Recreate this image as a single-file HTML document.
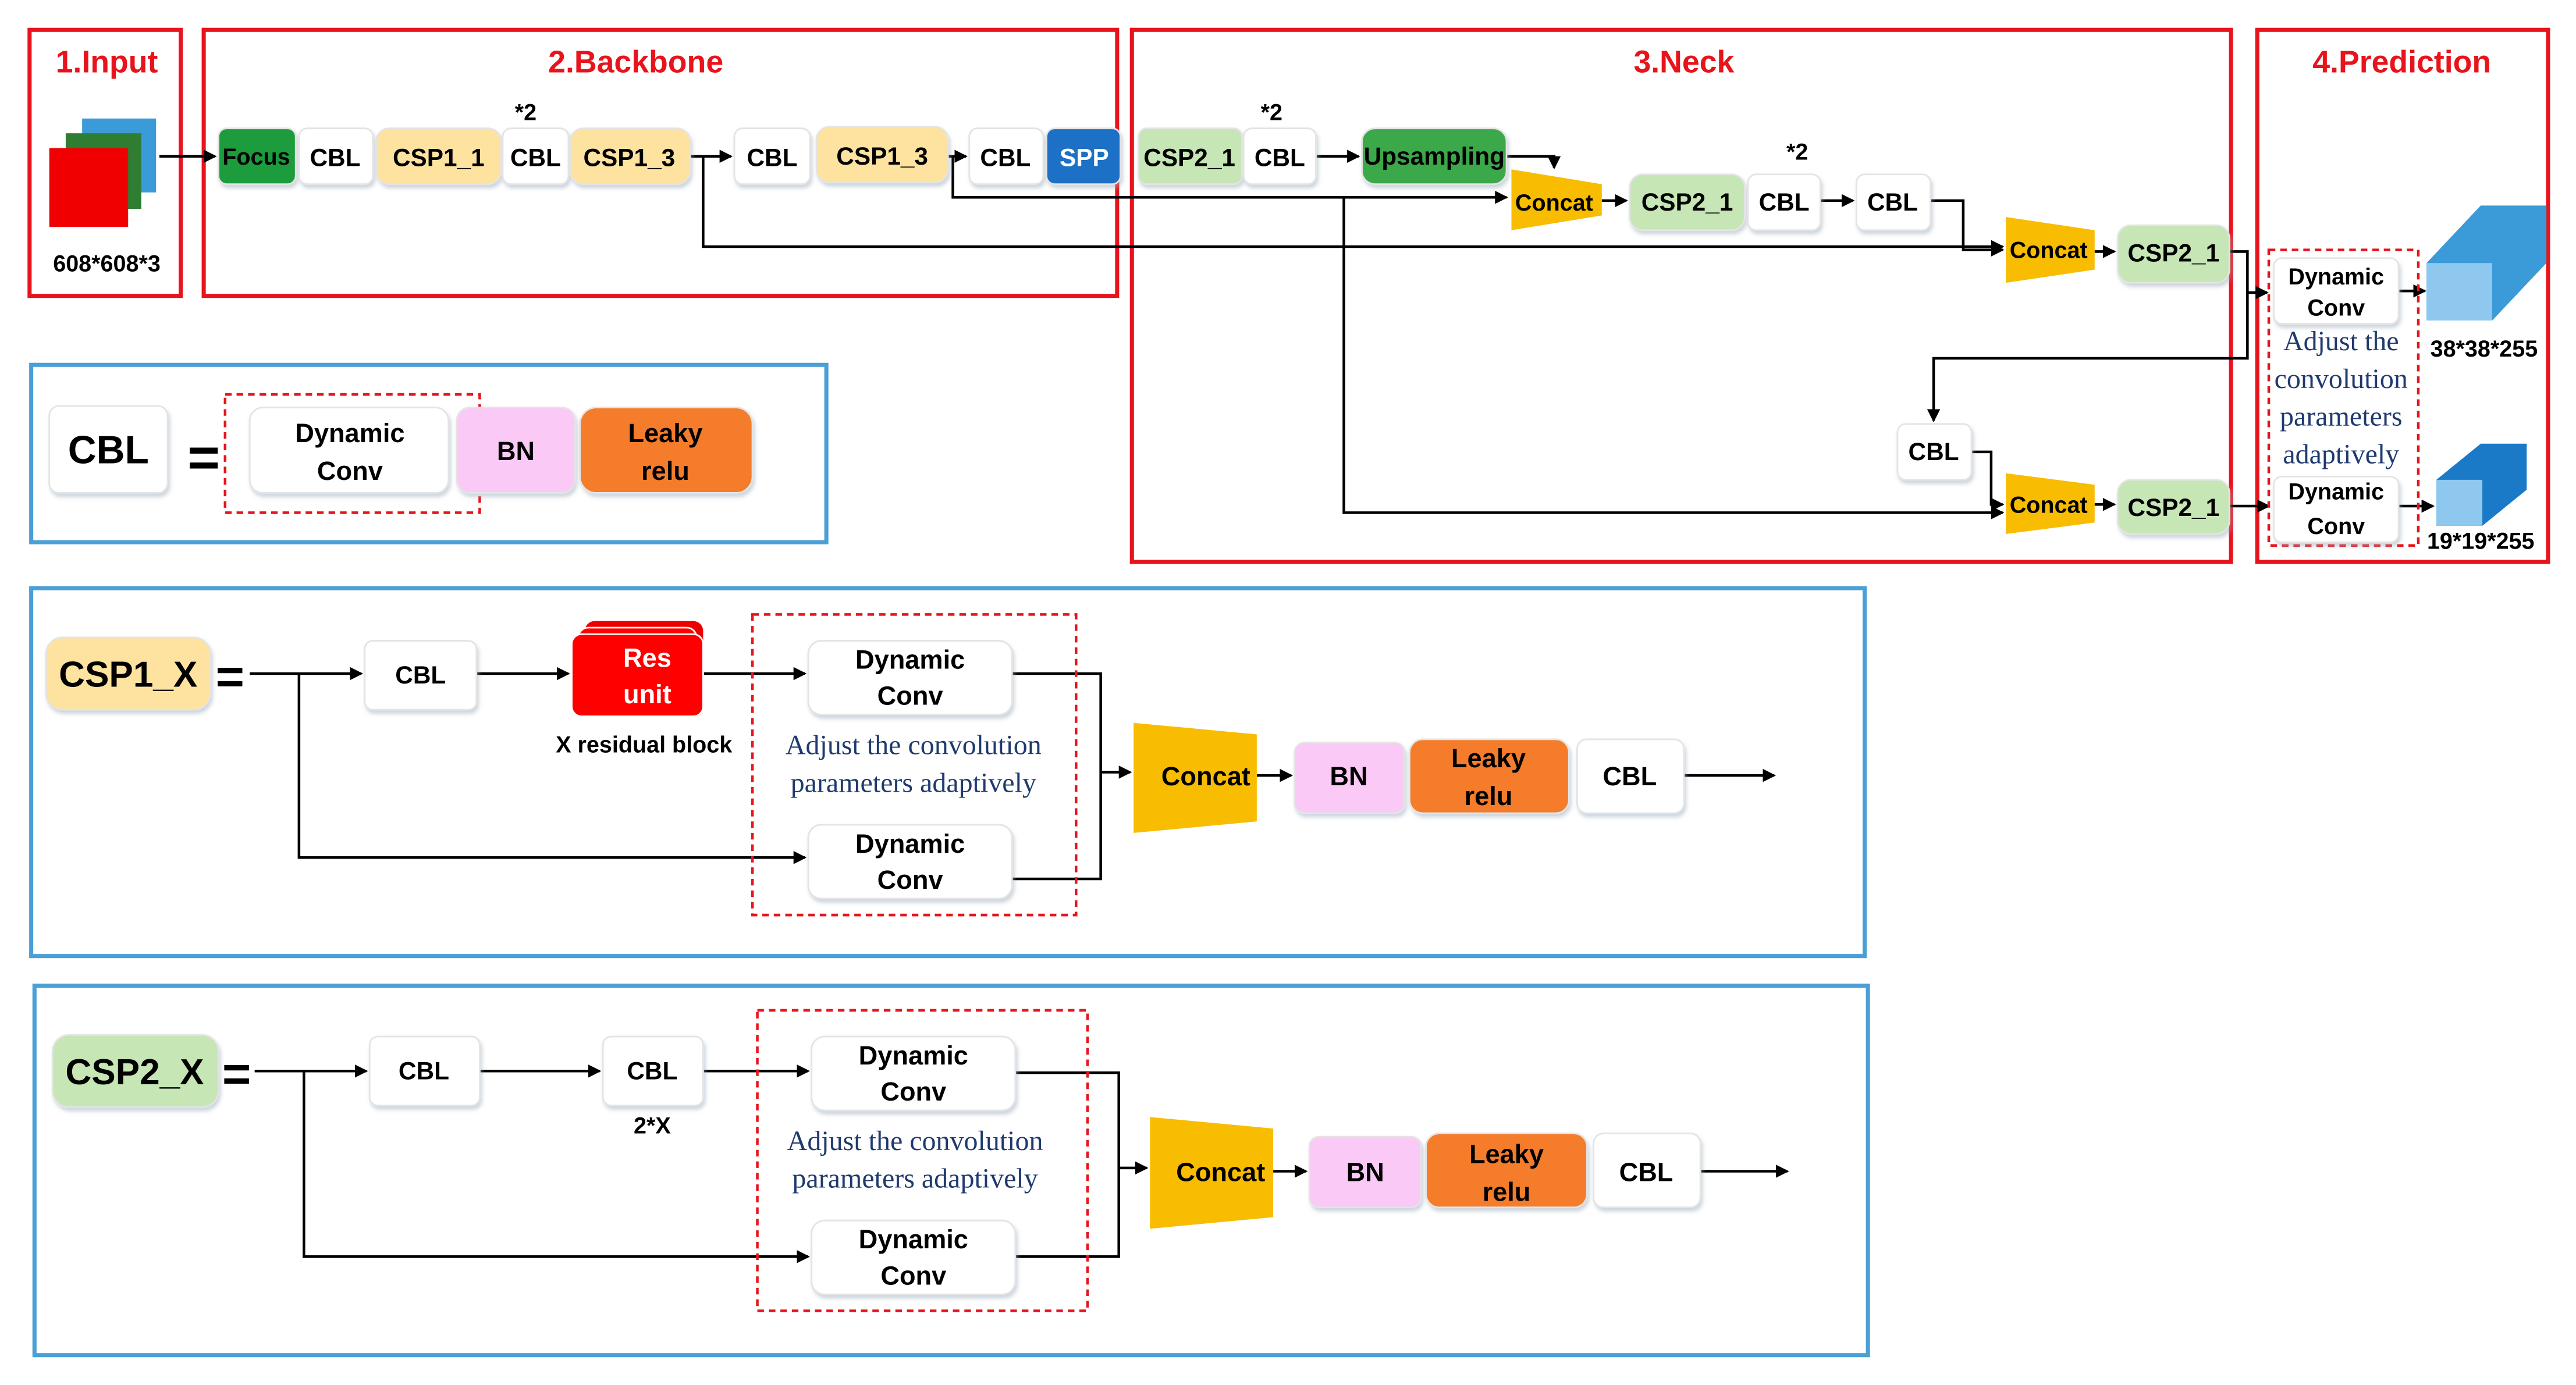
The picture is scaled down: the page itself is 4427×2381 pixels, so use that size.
<!DOCTYPE html>
<html><head><meta charset="utf-8"><style>
html,body{margin:0;padding:0;background:#fff;}
svg{display:block;}
text{font-family:"Liberation Sans",sans-serif;font-weight:bold;}
.s{font-family:"Liberation Serif",serif;font-weight:normal;fill:#1f3a6e;}
</style></head><body>
<svg width="4427" height="2381" viewBox="0 0 1568 843" xmlns="http://www.w3.org/2000/svg">
<defs>
<marker id="a" markerWidth="8" markerHeight="8" refX="7" refY="4" orient="auto" markerUnits="userSpaceOnUse"><path d="M0,0 L8,4 L0,8 z" fill="#000"/></marker>
<filter id="sh" x="-10%" y="-10%" width="130%" height="140%"><feDropShadow dx="1" dy="2" stdDeviation="1.2" flood-color="#9ab" flood-opacity="0.5"/></filter>
</defs>
<rect width="1568" height="843" fill="#fff"/>
<g fill="none" stroke="#e8141c" stroke-width="2.5">
<rect x="18" y="18" width="92" height="162"/><rect x="124" y="18" width="556" height="162"/>
<rect x="689" y="18" width="669" height="324"/><rect x="1374" y="18" width="177" height="324"/>
</g>
<g fill="#e8141c" font-size="19" text-anchor="middle">
<text x="65" y="44">1.Input</text><text x="387" y="44">2.Backbone</text><text x="1025" y="44">3.Neck</text><text x="1462" y="44">4.Prediction</text>
</g>
<g fill="none" stroke="#4a9fd6" stroke-width="2.5">
<rect x="19" y="222" width="484" height="108"/><rect x="19" y="358" width="1116" height="224"/><rect x="21" y="600" width="1116" height="225"/>
</g>
<!-- input cubes -->
<rect x="50" y="72" width="45" height="45" fill="#3b9ad8"/><rect x="40" y="81" width="46" height="46" fill="#2e7d32"/><rect x="30" y="90" width="48" height="48" fill="#f00000"/>
<text x="65" y="165" font-size="14" text-anchor="middle">608*608*3</text>
<!-- connectors -->
<g stroke="#000" stroke-width="1.6" fill="none">
<path d="M97,95 H131" marker-end="url(#a)"/>
<path d="M420,95 H445" marker-end="url(#a)"/>
<path d="M428,95 V150 H1219" marker-end="url(#a)"/>
<path d="M577,95 H588" marker-end="url(#a)"/>
<path d="M580,95 V120 H917" marker-end="url(#a)"/>
<path d="M801,95 H827" marker-end="url(#a)"/>
<path d="M917,95 H946 V102" marker-end="url(#a)"/>
<path d="M975,122 H990" marker-end="url(#a)"/>
<path d="M1108,122 H1128" marker-end="url(#a)"/>
<path d="M1175,122 H1195 V152 H1219" marker-end="url(#a)"/>
<path d="M1275,153 H1287" marker-end="url(#a)"/>
<path d="M1357,153 H1368 V218 H1177 V256" marker-end="url(#a)"/>
<path d="M1368,178 H1380" marker-end="url(#a)"/>
<path d="M1200,275 H1212 V307 H1219" marker-end="url(#a)"/>
<path d="M818,120 V312 H1219" marker-end="url(#a)"/>
<path d="M1275,307 H1287" marker-end="url(#a)"/>
<path d="M1357,308 H1381" marker-end="url(#a)"/>
<path d="M1460,177 H1476" marker-end="url(#a)"/>
<path d="M1460,308 H1481" marker-end="url(#a)"/>
<!-- CSP1 -->
<path d="M152,410 H220" marker-end="url(#a)"/>
<path d="M290,410 H346" marker-end="url(#a)"/>
<path d="M428,410 H490" marker-end="url(#a)"/>
<path d="M182,410 V522 H490" marker-end="url(#a)"/>
<path d="M616,410 H670 V535 H616"/>
<path d="M670,470 H688" marker-end="url(#a)"/>
<path d="M765,472 H786" marker-end="url(#a)"/>
<path d="M1025,472 H1080" marker-end="url(#a)"/>
<!-- CSP2 -->
<path d="M155,652 H223" marker-end="url(#a)"/>
<path d="M292,652 H365" marker-end="url(#a)"/>
<path d="M428,652 H492" marker-end="url(#a)"/>
<path d="M185,652 V765 H492" marker-end="url(#a)"/>
<path d="M618,653 H681 V765 H618"/>
<path d="M681,711 H698" marker-end="url(#a)"/>
<path d="M775,713 H795" marker-end="url(#a)"/>
<path d="M1035,713 H1088" marker-end="url(#a)"/>
</g>
<!-- dashed -->
<g fill="none" stroke="#e8141c" stroke-width="1.6" stroke-dasharray="4,3">
<rect x="1381" y="152" width="91" height="180"/><rect x="137" y="240" width="155" height="72"/>
<rect x="458" y="374" width="197" height="183"/><rect x="461" y="615" width="201" height="183"/>
</g>
<!-- nodes -->
<g filter="url(#sh)" stroke="#e4e4e4" stroke-width="1">
<rect x="133" y="78" width="47" height="34" rx="5" fill="#1a9c3e"/>
<rect x="182" y="78" width="45" height="34" rx="5" fill="#fff"/>
<rect x="229" y="78" width="76" height="34" rx="8" fill="#fde2a0"/>
<rect x="306" y="78" width="40" height="34" rx="5" fill="#fff"/>
<rect x="347" y="78" width="73" height="34" rx="8" fill="#fde2a0"/>
<rect x="447" y="78" width="46" height="34" rx="5" fill="#fff"/>
<rect x="497" y="77" width="80" height="34" rx="8" fill="#fde2a0"/>
<rect x="590" y="78" width="45" height="34" rx="5" fill="#fff"/>
<rect x="637" y="78" width="45" height="34" rx="5" fill="#1f6fc5"/>
<rect x="693" y="78" width="63" height="34" rx="5" fill="#c6e6b5"/>
<rect x="757" y="78" width="44" height="34" rx="5" fill="#fff"/>
<rect x="829" y="78" width="88" height="34" rx="8" fill="#3aa84a"/>
<rect x="992" y="106" width="70" height="34" rx="8" fill="#c6e6b5"/>
<rect x="1064" y="106" width="44" height="34" rx="5" fill="#fff"/>
<rect x="1130" y="106" width="45" height="34" rx="5" fill="#fff"/>
<rect x="1289" y="137" width="68" height="35" rx="8" fill="#c6e6b5"/>
<rect x="1155" y="258" width="45" height="34" rx="5" fill="#fff"/>
<rect x="1289" y="292" width="68" height="33" rx="8" fill="#c6e6b5"/>
<rect x="1384" y="157" width="76" height="40" rx="5" fill="#fff"/>
<rect x="1384" y="290" width="76" height="40" rx="5" fill="#fff"/>
<rect x="30" y="247" width="72" height="53" rx="6" fill="#fff"/>
<rect x="152" y="248" width="121" height="52" rx="8" fill="#fff"/>
<rect x="278" y="248" width="72" height="52" rx="8" fill="#fbc9f5"/>
<rect x="353" y="248" width="105" height="52" rx="10" fill="#f47c2a"/>
<rect x="28" y="388" width="100" height="44" rx="10" fill="#fde2a0"/>
<rect x="222" y="390" width="68" height="42" rx="5" fill="#fff"/>
<rect x="492" y="390" width="124" height="45" rx="8" fill="#fff"/>
<rect x="492" y="502" width="124" height="45" rx="8" fill="#fff"/>
<rect x="788" y="452" width="67" height="43" rx="6" fill="#fbc9f5"/>
<rect x="858" y="450" width="97" height="45" rx="8" fill="#f47c2a"/>
<rect x="960" y="450" width="65" height="45" rx="6" fill="#fff"/>
<rect x="32" y="630" width="101" height="44" rx="10" fill="#c6e6b5"/>
<rect x="225" y="631" width="67" height="42" rx="5" fill="#fff"/>
<rect x="367" y="631" width="61" height="42" rx="5" fill="#fff"/>
<rect x="494" y="631" width="124" height="45" rx="8" fill="#fff"/>
<rect x="494" y="743" width="124" height="45" rx="8" fill="#fff"/>
<rect x="797" y="692" width="68" height="43" rx="6" fill="#fbc9f5"/>
<rect x="868" y="690" width="98" height="45" rx="8" fill="#f47c2a"/>
<rect x="970" y="690" width="65" height="45" rx="6" fill="#fff"/>
</g>
<!-- res unit -->
<rect x="356" y="378" width="72" height="46" rx="6" fill="#e00"/>
<rect x="352" y="382" width="72" height="48" rx="6" fill="#f00" stroke="#fff"/>
<rect x="348" y="386" width="80" height="50" rx="6" fill="#f00" stroke="#fff"/>
<!-- concats -->
<g fill="#f8bc00">
<path d="M920,103 L975,112 L975,131 L920,140 z"/>
<path d="M1221,132 L1275,140 L1275,164 L1221,172 z"/>
<path d="M1221,288 L1275,295 L1275,318 L1221,325 z"/>
<path d="M690,440 L765,447 L765,500 L690,507 z"/>
<path d="M700,680 L775,687 L775,741 L700,748 z"/>
</g>
<!-- cubes -->
<path d="M1477,160 L1510,125 L1550,125 L1550,160 L1517,195 L1477,195 z" fill="#3b9ad8"/>
<rect x="1477" y="160" width="40" height="35" fill="#8ec8ee"/>
<path d="M1483,292 L1510,270 L1538,270 L1538,298 L1511,320 L1483,320 z" fill="#1a7ac8"/>
<rect x="1483" y="292" width="28" height="28" fill="#8ec8ee"/>
<g font-size="14" text-anchor="middle">
<text x="1512" y="217">38*38*255</text><text x="1510" y="334">19*19*255</text>
<text x="320" y="73">*2</text><text x="774" y="73">*2</text><text x="1094" y="97">*2</text>
<text x="392" y="458">X residual block</text><text x="397" y="690">2*X</text>
</g>
<!-- node labels -->
<g font-size="15" text-anchor="middle">
<text x="156" y="100" font-size="14">Focus</text>
<text x="204" y="101">CBL</text><text x="267" y="101">CSP1_1</text><text x="326" y="101">CBL</text><text x="383" y="101">CSP1_3</text>
<text x="470" y="101">CBL</text><text x="537" y="100">CSP1_3</text><text x="612" y="101">CBL</text>
<text x="660" y="101" fill="#fff">SPP</text><text x="724" y="101">CSP2_1</text><text x="779" y="101">CBL</text>
<text x="873" y="100" font-family="Liberation Serif" font-size="15">Upsampling</text>
<text x="946" y="128" font-size="14">Concat</text><text x="1027" y="128">CSP2_1</text><text x="1086" y="128">CBL</text><text x="1152" y="128">CBL</text>
<text x="1247" y="157" font-size="14">Concat</text><text x="1323" y="159">CSP2_1</text>
<text x="1177" y="280">CBL</text><text x="1247" y="312" font-size="14">Concat</text><text x="1323" y="314">CSP2_1</text>
<text x="1422" y="173" font-size="14">Dynamic</text><text x="1422" y="192" font-size="14">Conv</text>
<text x="1422" y="304" font-size="14">Dynamic</text><text x="1422" y="325" font-size="14">Conv</text>
<text x="66" y="282" font-size="24">CBL</text>
<text x="124" y="290" font-size="34">=</text>
<text x="213" y="269" font-size="16">Dynamic</text><text x="213" y="292" font-size="16">Conv</text>
<text x="314" y="280" font-size="16">BN</text>
<text x="405" y="269" font-size="16">Leaky</text><text x="405" y="292" font-size="16">relu</text>
<text x="78" y="418" font-size="22">CSP1_X</text><text x="140" y="422" font-size="30">=</text>
<text x="256" y="416">CBL</text>
<text x="394" y="406" font-size="16" fill="#fff">Res</text><text x="394" y="428" font-size="16" fill="#fff">unit</text>
<text x="554" y="407" font-size="16">Dynamic</text><text x="554" y="429" font-size="16">Conv</text>
<text x="554" y="519" font-size="16">Dynamic</text><text x="554" y="541" font-size="16">Conv</text>
<text x="734" y="478" font-size="16">Concat</text><text x="821" y="478" font-size="16">BN</text>
<text x="906" y="467" font-size="16">Leaky</text><text x="906" y="490" font-size="16">relu</text><text x="992" y="478" font-size="16">CBL</text>
<text x="82" y="660" font-size="22">CSP2_X</text><text x="144" y="664" font-size="30">=</text>
<text x="258" y="657">CBL</text><text x="397" y="657">CBL</text>
<text x="556" y="648" font-size="16">Dynamic</text><text x="556" y="670" font-size="16">Conv</text>
<text x="556" y="760" font-size="16">Dynamic</text><text x="556" y="782" font-size="16">Conv</text>
<text x="743" y="719" font-size="16">Concat</text><text x="831" y="719" font-size="16">BN</text>
<text x="917" y="708" font-size="16">Leaky</text><text x="917" y="731" font-size="16">relu</text><text x="1002" y="719" font-size="16">CBL</text>
</g>
<g class="s" font-size="17" text-anchor="middle">
<text class="s" x="1425" y="213">Adjust the</text><text class="s" x="1425" y="236">convolution</text>
<text class="s" x="1425" y="259">parameters</text><text class="s" x="1425" y="282">adaptively</text>
<text class="s" x="556" y="459">Adjust the convolution</text><text class="s" x="556" y="482">parameters adaptively</text>
<text class="s" x="557" y="700">Adjust the convolution</text><text class="s" x="557" y="723">parameters adaptively</text>
</g>
</svg>
</body></html>
